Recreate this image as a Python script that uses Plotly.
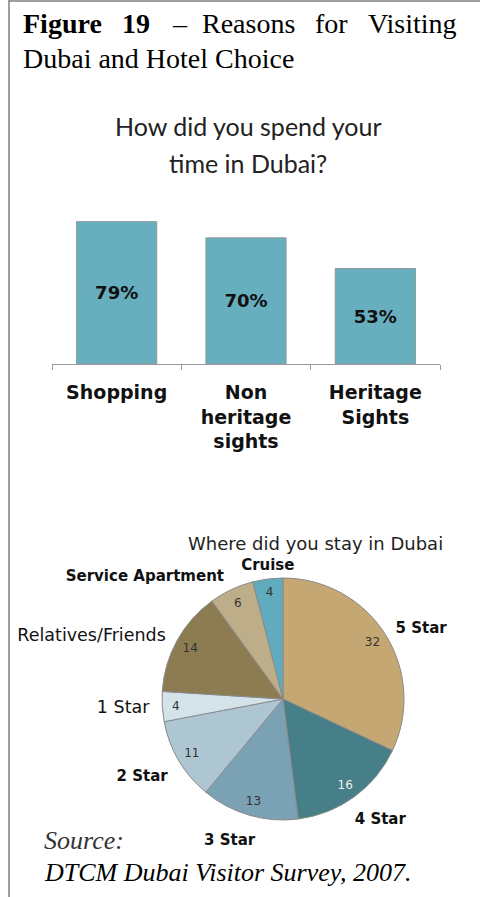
import plotly.graph_objects as go

W, H = 480, 897

# bar chart data
bar_categories = ["Shopping", "Non<br>heritage<br>sights", "Heritage<br>Sights"]
bar_values = [79, 70, 53]

# pie chart data
pie_labels = ["5 Star", "4 Star", "3 Star", "2 Star", "1 Star",
              "Relatives/Friends", "Service Apartment", "Cruise"]
pie_values = [32, 16, 13, 11, 4, 14, 6, 4]
pie_bold = [True, True, True, True, False, False, True, True]
pie_colors = ["#C4A773", "#467F87", "#7AA2B4", "#ADC6D1", "#D4E3EA",
              "#8D7C51", "#BDAD88", "#60ACBE"]
pie_text_colors = ["#333333", "#EEEEEE", "#333333", "#333333", "#333333",
                   "#333333", "#333333", "#333333"]


def px(x):
    return x / W


def py(y):
    return 1 - y / H


def box(cx, cy, r):
    return dict(x=[px(cx - r), px(cx + r)], y=[py(cy + r), py(cy - r)])


SANS = "DejaVu Sans"
SERIF = "Liberation Serif"
CLEAR = ["rgba(0,0,0,0)"] * len(pie_values)

fig = go.Figure()

fig.add_trace(go.Bar(
    x=bar_categories,
    y=bar_values,
    marker=dict(color="#67AFBF", line=dict(color="#8F9A9C", width=1)),
    text=[f"{v}%" for v in bar_values],
    textposition="inside",
    insidetextanchor="middle",
    textfont=dict(family=SANS, size=18, color="#111111", weight="bold"),
    hoverinfo="skip",
    xaxis="x", yaxis="y",
))

# pie centre (283, 699), radius 121
pie_domain = box(283, 699, 121)

fig.add_trace(go.Pie(
    labels=pie_labels, values=pie_values,
    sort=False, direction="clockwise", rotation=0,
    marker=dict(colors=pie_colors, line=dict(color="#8A8A8A", width=1)),
    textinfo="none", hoverinfo="skip", showlegend=False,
    domain=pie_domain,
))
# values sit in an outer ring
fig.add_trace(go.Pie(
    labels=pie_labels, values=pie_values,
    sort=False, direction="clockwise", rotation=0,
    hole=0.75,
    marker=dict(colors=CLEAR, line=dict(width=0)),
    texttemplate="%{value}",
    textposition="inside",
    insidetextorientation="horizontal",
    textfont=dict(family=SANS, size=12, color=pie_text_colors),
    hoverinfo="skip", showlegend=False,
    domain=pie_domain,
))

# slice names outside, in groups so that they are not pushed around
label_text = [f"<b>{l}</b>" if b else l for l, b in zip(pie_labels, pie_bold)]
label_size = [15 if b else 17.5 for b in pie_bold]
label_groups = [
    (["5 Star", "1 Star", "Relatives/Friends", "Service Apartment"], box(283, 699, 128)),
    (["2 Star"], box(283, 709, 128)),
    (["3 Star"], box(296, 709, 128)),
    (["4 Star"], box(275, 710, 128)),
    (["Cruise"], box(315, 701, 128)),
]
for names, dom in label_groups:
    fig.add_trace(go.Pie(
        labels=pie_labels, values=pie_values,
        sort=False, direction="clockwise", rotation=0,
        marker=dict(colors=CLEAR, line=dict(width=0)),
        text=[t if l in names else "" for l, t in zip(pie_labels, label_text)],
        texttemplate="%{text}",
        textposition="outside",
        outsidetextfont=dict(family=SANS, size=label_size, color="#111111"),
        hoverinfo="skip", showlegend=False,
        domain=dom,
    ))

ann = []
title_font = dict(family=SERIF, size=28, color="#000000")
ann += [
    dict(x=px(21), y=py(24), text="<b>Figure</b>", xanchor="left"),
    dict(x=px(120), y=py(24), text="<b>19</b>", xanchor="left"),
    dict(x=px(180), y=py(24), text="–", xanchor="center"),
    dict(x=px(200), y=py(24), text="Reasons", xanchor="left"),
    dict(x=px(331), y=py(24), text="for", xanchor="center"),
    dict(x=px(459), y=py(24), text="Visiting", xanchor="right"),
    dict(x=px(21), y=py(58), text="Dubai and Hotel Choice", xanchor="left"),
]
for a in ann:
    a.update(font=title_font)

sub_font = dict(family="Lato", size=25, color="#222222")
ann += [
    dict(x=px(248), y=py(126), text="How did you spend your", font=sub_font),
    dict(x=px(248), y=py(163), text="time in Dubai?", font=sub_font),
    dict(x=px(315), y=py(543), text="Where did you stay in Dubai",
         font=dict(family=SANS, size=18, color="#222222")),
    dict(x=px(42), y=py(840), text="<i>Source:</i>", xanchor="left",
         font=dict(family=SERIF, size=26, color="#333333")),
    dict(x=px(42), y=py(872), text="<i>DTCM Dubai Visitor Survey, 2007.</i>",
         xanchor="left", font=dict(family=SERIF, size=26, color="#000000")),
]
for a in ann:
    a.setdefault("xanchor", "center")
    a.update(yanchor="middle", showarrow=False, xref="paper", yref="paper")

fig.update_layout(
    width=W, height=H,
    margin=dict(l=0, r=0, t=0, b=0),
    paper_bgcolor="white",
    plot_bgcolor="white",
    showlegend=False,
    bargap=0.38,
    xaxis=dict(
        domain=[px(52), px(440)],
        anchor="y",
        showline=True, linecolor="#9A9A9A", linewidth=1,
        ticks="outside", tickson="boundaries", ticklen=5, tickcolor="#9A9A9A",
        ticklabelstandoff=11,
        tickfont=dict(family=SANS, size=19, color="#111111", weight="bold"),
        showgrid=False, fixedrange=True,
    ),
    yaxis=dict(
        domain=[py(364), py(200)],
        anchor="x",
        range=[0, 91],
        visible=False, fixedrange=True,
    ),
    annotations=ann,
    shapes=[
        dict(type="line", xref="paper", yref="paper",
             x0=px(9), x1=px(9), y0=0, y1=1,
             line=dict(color="#7F7F7F", width=1.5)),
        dict(type="line", xref="paper", yref="paper",
             x0=px(9), x1=1, y0=py(1), y1=py(1),
             line=dict(color="#7F7F7F", width=1.5)),
    ],
)

# the page's default 8px body margin would push the figure off the window
fig.write_html(
    "out.html",
    config={"displayModeBar": False},
    post_script="document.body.style.margin='0';document.body.style.overflow='hidden';",
)
